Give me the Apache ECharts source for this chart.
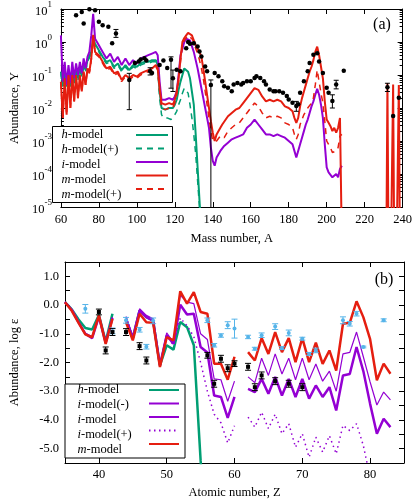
<!DOCTYPE html>
<html>
<head>
<meta charset="utf-8">
<script src="https://cdn.jsdelivr.net/npm/echarts@6/dist/echarts.min.js"></script>
<style>
html, body { margin: 0; padding: 0; background: #fff; }
#chart { width: 415px; height: 500px; }
</style>
</head>
<body>
<div id="chart"></div>
<script>
// ---- panel (a): log10 of abundance Y against mass number A ----
const massA = [60,61,62,63,64,65,66,67,68,69,70,71,72,73,74,75,76,77,78,79,80,
  82,84,86,88,90,92,94,96,98,100,102,104,106,108,110,
  111,112,113,114,115,116,117,118,119,120,121,122,123,124,125,126,127,128,129,130,
  131,132,133,134,135,136,137,138,139,140,141,142,143,144,145,
  146,148,150,152,154,156,158,160,162,164,166,168,170,172,174,176,178,180,182,
  183,184,185,186,187,188,189,190,191,192,193,194,195,196,197,198,199,200,201,202,203,204,205,206,207,208,
  209,231,232,233,234,235,236,237,238,239];

const hModelA = [-0.9,-1.3,-0.9,-1.35,-0.95,-1.3,-0.9,-1.2,-0.85,-1.1,-0.8,-1.0,-0.7,-0.85,-0.55,-0.6,-0.3,0.1,-0.05,-0.1,-0.25,
  -0.45,-0.6,-0.55,-0.75,-0.65,-0.85,-0.7,-0.85,-0.7,-0.75,-0.65,-0.6,-0.6,-0.55,-0.55,
  -0.7,-1.5,-2.0,-2.0,-2.05,-2.0,-2.0,-2.05,-2.0,-1.9,-1.75,-1.45,-1.2,-1.0,-0.8,-0.74,-0.9,-1.1,-1.5,-1.9,-2.8,-3.8,-4.8,-5.8];

const hModelPlusA = [-0.95,-1.35,-0.95,-1.4,-1.0,-1.35,-0.95,-1.25,-0.9,-1.15,-0.85,-1.05,-0.75,-0.9,-0.6,-0.65,-0.35,0.05,-0.1,-0.15,-0.3,
  -0.5,-0.65,-0.6,-0.8,-0.7,-0.9,-0.75,-0.9,-0.75,-0.8,-0.7,-0.65,-0.65,-0.6,-0.6,
  -0.8,-1.7,-2.2,-2.3,-2.35,-2.3,-2.3,-2.35,-2.35,-2.2,-2.1,-1.9,-1.75,-1.55,-1.4,-1.35,-1.55,-1.9,-2.3,-2.8,-3.4,-4.2,-5.0,-5.8];

const iModelA = [0.2,-1.2,-0.6,-1.3,-0.7,-1.25,-0.6,-1.1,-0.65,-1.0,-0.6,-0.95,-0.5,-0.8,-0.45,-0.3,0.2,0.85,0.1,0.15,-0.1,
  -0.3,-0.5,-0.35,-0.6,-0.45,-0.7,-0.5,-0.7,-0.55,-0.65,-0.5,-0.45,-0.4,-0.35,-0.3,
  -0.4,-1.2,-1.75,-1.7,-1.75,-1.7,-1.7,-1.75,-1.75,-1.65,-1.5,-1.0,-0.4,-0.2,0.0,0.1,0.16,0.05,0.0,-0.3,
  -0.55,-0.8,-1.1,-1.4,-1.7,-2.0,-2.3,-2.6,-3.2,-3.6,-3.75,-3.5,-3.4,-3.3,-3.35,
  -3.15,-3.05,-2.95,-2.9,-2.85,-2.8,-2.6,-2.5,-2.35,-2.5,-2.65,-2.8,-2.8,-2.85,-2.8,-2.85,-2.9,-3.0,-3.1,
  -3.3,-3.5,-3.45,-3.1,-2.9,-2.7,-2.5,-2.35,-2.15,-1.95,-1.8,-1.6,-1.42,-1.6,-1.9,-2.3,-3.1,-3.8,-3.95,-3.9,-4.1,-4.15,-4.0,-4.1,-3.85,-3.75];

const mModelA = [-1.2,-2.3,-1.1,-2.2,-1.0,-2.0,-1.0,-1.8,-1.0,-1.7,-1.0,-1.5,-0.9,-1.3,-0.8,-0.9,-0.5,0.22,-0.3,-0.25,-0.4,
  -0.6,-0.8,-0.75,-0.95,-0.9,-1.15,-1.0,-1.1,-1.0,-1.05,-0.95,-0.9,-0.85,-0.8,-0.7,
  -0.8,-1.4,-1.85,-1.85,-1.9,-1.85,-1.85,-1.9,-1.9,-1.75,-1.5,-1.1,-0.5,0.0,0.12,0.2,0.28,0.31,0.2,0.15,
  -0.1,-0.2,-0.3,-0.45,-0.8,-1.2,-1.6,-2.0,-2.4,-2.75,-3.0,-2.8,-2.75,-2.6,-2.5,
  -2.5,-2.25,-2.15,-2.05,-2.0,-1.85,-1.7,-1.55,-1.4,-1.45,-1.65,-1.8,-1.75,-1.8,-1.75,-1.8,-1.95,-2.0,-2.1,
  -2.3,-2.45,-2.3,-1.95,-1.7,-1.5,-1.3,-1.1,-0.9,-0.75,-0.55,-0.3,-0.14,-0.4,-0.75,-1.1,-1.8,-2.35,-2.45,-2.55,-2.7,-2.6,-2.75,-2.6,-2.3,-2.35,
  -10,-10,-1.24,-10,-10,-1.29,-10,-10,-1.3,-10];

const mModelPlusA = [-1.25,-2.3,-1.15,-2.2,-1.05,-2.0,-1.05,-1.8,-1.05,-1.7,-1.05,-1.5,-0.95,-1.3,-0.85,-0.95,-0.55,0.15,-0.35,-0.3,-0.45,
  -0.65,-0.85,-0.8,-1.0,-0.95,-1.2,-1.05,-1.15,-1.05,-1.1,-1.0,-0.95,-0.9,-0.85,-0.75,
  -0.85,-1.5,-2.0,-2.0,-2.05,-2.0,-2.0,-2.05,-2.0,-1.85,-1.6,-1.2,-0.6,-0.1,0.05,0.1,0.2,0.22,0.1,0.0,
  -0.2,-0.35,-0.55,-0.8,-1.1,-1.5,-1.9,-2.3,-2.7,-3.0,-3.05,-3.0,-2.95,-2.85,-2.85,
  -2.9,-2.7,-2.6,-2.5,-2.45,-2.3,-2.15,-2.0,-1.85,-1.95,-2.15,-2.3,-2.25,-2.3,-2.25,-2.3,-2.45,-2.5,-2.6,
  -2.8,-2.95,-2.8,-2.5,-2.35,-2.2,-2.1,-2.0,-1.95,-1.85,-1.7,-1.3,-0.85,-1.2,-1.55,-1.85,-2.4,-3.0,-3.1,-3.2,-3.35,-3.4,-3.3,-3.2,-2.85,-2.8];

const obsMass = [68,71,72,75,78,80,82,85,87,89,96,99,101,102,104,105,107,108,112,114,116,118,119,121,123,
  126,127,128,130,132,133,134,136,137,139,141,143,145,146,148,150,151,153,155,156,158,160,162,163,165,167,168,
  170,172,173,175,177,179,180,182,184,185,186,188,190,191,193,195,196,198,200,201,203,205,209,232,235,238];
const obsLogY = [0.81,0.91,0.56,0.99,0.96,0.61,0.51,0.46,-0.04,0.26,-1.15,-0.64,-0.59,-0.53,-0.49,-0.56,-0.89,-0.94,
  -0.7,-0.56,-0.79,-0.54,-1.1,-0.84,-0.89,-0.19,0.0,-0.05,-0.04,-0.14,-0.29,-0.44,-0.74,-0.89,
  -1.3,-0.94,-1.04,-1.19,-1.34,-1.39,-1.49,-1.29,-1.24,-1.29,-1.24,-1.19,-1.19,-1.09,-1.04,-1.09,-1.19,-1.29,
  -1.44,-1.49,-1.49,-1.49,-1.54,-1.64,-1.74,-1.84,-1.94,-1.89,-1.54,-1.19,-0.89,-0.64,-0.39,-0.34,-0.59,-0.94,
  -1.39,-1.54,-1.79,-1.29,-0.87,-1.37,-2.24,-1.69];
const errMass = [89,96,107,118,119,139,184,203,205,232];
const errLow = [0.14,-2.05,-1.0,-1.4,-1.5,-6,-2.1,-2.0,-1.42,-1.5];
const errHigh = [0.38,-0.95,-0.78,-0.45,-0.85,-1.15,-1.8,-1.6,-1.16,-1.25];

// ---- panel (b): log epsilon against atomic number Z ----
const atomicZ = [35,36,37,38,39,40,41,42,43,44,45,46,47,48,49,50,51,52,53,54,55,56,57,58,59,60,
  61,62,63,64,65,66,67,68,69,70,71,72,73,74,75,76,77,78,79,80,81,82,83];
const hModelB = [0.1,-0.15,-0.5,-0.8,-0.85,-0.35,-1.27,-0.3,null,-0.48,-1.15,-0.19,-0.42,-0.54,-2.1,-1.4,-1.55,-0.59,-0.77,-1.4,-5.4,-9];
const iModelMinusB = [0.12,-0.15,-0.58,-0.98,-1.1,-0.4,-1.3,-0.42,null,-0.4,-1.1,-0.13,-0.36,-0.48,-2.05,-0.97,-1.3,0.34,0.1,0.05,-1.0,-1.2,-2.57,-2.6,-3.35,-2.65,
  null,-2.5,-2.7,-1.85,-2.45,-1.7,-2.4,-1.85,-2.6,-1.85,-2.6,-2.05,-2.65,-2.3,-3.0,-1.7,-1.65,-0.94,-1.8,-2.68,-3.48,-3.03,-3.3];
const iModelB = [0.1,-0.17,-0.6,-1.0,-1.15,-0.4,-1.32,-0.45,null,-0.48,-1.15,-0.19,-0.42,-0.54,-2.1,-1.06,-1.35,0.01,-0.33,-0.3,-1.46,-1.65,-3.15,-3.2,-3.93,-3.2,
  null,-2.92,-3.03,-2.57,-3.09,-2.5,-3.15,-2.57,-3.2,-2.57,-3.26,-2.8,-3.2,-2.86,-3.67,-2.45,-2.4,-1.46,-2.3,-3.44,-4.48,-3.96,-4.25];
const iModelPlusB = [0.1,-0.17,-0.6,-1.0,-1.15,-0.4,-1.32,-0.45,null,-0.48,-1.15,-0.19,-0.42,-0.54,-2.1,-1.06,-1.4,-0.45,-0.72,-1.1,-2.0,-3.0,-3.8,-4.1,-4.8,-4.2,
  null,-3.9,-4.25,-3.73,-4.3,-3.8,-4.48,-4.13,-4.95,-4.48,-5.3,-4.6,-5.12,-4.55,-5.18,-4.19,-4.37,-4.13,-4.89,-6.0];
const mModelB = [0.1,-0.2,-0.62,-1.02,-1.12,-0.36,-1.35,-0.48,null,-0.6,-1.23,-0.3,-0.6,-0.62,-2.16,-1.12,-1.23,0.48,0.05,0.45,-0.24,-0.3,-2.04,-2.04,-2.6,-1.8,
  null,-1.64,-1.93,-1.15,-1.7,-0.94,-1.64,-1.15,-1.99,-1.15,-1.99,-1.31,-2.05,-1.58,-2.28,-0.65,-0.62,0.13,-0.42,-1.19,-2.62,-2.04,-2.39];

const blackZ = [40,41,42,44,46,47,56,57,58,59,60,62,63,64,66,68,70];
const blackEps = [-0.24,-1.58,-0.94,-0.94,-1.43,-1.93,-1.75,-2.74,-1.87,-2.2,-2.04,-2.15,-2.86,-2.45,-2.65,-2.74,-2.86];
const blackErr = [0.1,0.12,0.12,0.12,0.12,0.12,0.1,0.12,0.12,0.12,0.1,0.12,0.12,0.12,0.12,0.12,0.12];
const blueZ = [38,42,44,46,47,48,56,57,58,59,60,62,63,64,66,67,68,70,71,72,76,77,78,79,82];
const blueEps = [-0.13,-0.9,-0.53,-0.86,-1.45,-0.55,-0.53,-1.4,-1.06,-0.7,-0.82,-1.11,-1.52,-1.05,-0.75,-1.5,-0.97,-1.17,-1.7,-1.58,-0.53,-0.65,-0.3,-1.46,-0.53];
const blueErr = [0.15,0.1,0.1,0.08,0.08,0.1,0.08,0.06,0.06,0.12,0.33,0.06,0.05,0.08,0.1,0.05,0.1,0.05,0.05,0.08,0.12,0.08,0.08,0.03,0.05];

const zTicks = [40,50,60,70,80];
const epsLabels = [-5,-4,-3,-2,-1,0,1];
const epsTicks = [-5,-4.5,-4,-3.5,-3,-2.5,-2,-1.5,-1,-0.5,0,0.5,1];

// ---- styling ----
const FONT = '"Liberation Serif", "Times New Roman", serif';
const BLACK = '#000';
const GREEN = '#009e73', PURPLE = '#9400d3', RED = '#e51e10', BLUE = '#56b4e9';

const pairs = (xs, ys) => ys.map((v, i) => [xs[i], v]);

// minor ticks of the log axis (2..9 inside each decade)
const minorLogTicks = [];
for (let n = -5; n < 1; n++) {
  for (let k = 2; k < 10; k++) minorLogTicks.push(n + Math.log10(k));
}

function errorBars(color, cap) {
  return function (params, api) {
    const x = api.value(0);
    const lo = api.coord([x, api.value(1)]);
    const hi = api.coord([x, api.value(2)]);
    const style = { stroke: color, lineWidth: 1 };
    return {
      type: 'group',
      children: [
        { type: 'line', shape: { x1: lo[0], y1: lo[1], x2: hi[0], y2: hi[1] }, style: style },
        { type: 'line', shape: { x1: lo[0] - cap, y1: lo[1], x2: lo[0] + cap, y2: lo[1] }, style: style },
        { type: 'line', shape: { x1: hi[0] - cap, y1: hi[1], x2: hi[0] + cap, y2: hi[1] }, style: style }
      ]
    };
  };
}

const axisLine = { show: true, onZero: false, lineStyle: { color: BLACK, width: 1 } };
const tick = { show: true, inside: true, length: 5, lineStyle: { color: BLACK, width: 1 } };
const minorTick = { show: true, inside: true, length: 3, lineStyle: { color: BLACK, width: 1 }, customValues: minorLogTicks };
const label = { color: BLACK, fontFamily: FONT, fontSize: 12.5 };
const nameStyle = { color: BLACK, fontFamily: FONT, fontSize: 12.5 };
const noSplit = { show: false };
const hiddenLine = { show: false, onZero: false };

const legendText = {
  fontFamily: FONT, fontSize: 12.5, color: BLACK, lineHeight: 15,
  rich: { it: { fontFamily: FONT, fontSize: 12.5, color: BLACK, fontStyle: 'italic', lineHeight: 15 } }
};
const legendNamesA = ['h-model', 'h-model(+)', 'i-model', 'm-model', 'm-model(+)'];
const legendNamesB = ['h-model', 'i-model(-)', 'i-model', 'i-model(+)', 'm-model'];

function textLegend(names, left, top) {
  return {
    data: names, orient: 'vertical', left: left, top: top, padding: 0, itemGap: 0,
    itemWidth: 1, itemHeight: 15, itemStyle: { opacity: 0 }, lineStyle: { opacity: 0 },
    textStyle: legendText, selectedMode: false, z: 10,
    formatter: n => '{it|' + n.charAt(0) + '}' + n.slice(1)
  };
}
function iconLegend(names, left, top, width) {
  return {
    data: names, orient: 'vertical', left: left, top: top, padding: 0, itemGap: 0,
    itemWidth: width, itemHeight: 15, itemStyle: { opacity: 0 },
    textStyle: { fontSize: 1 }, selectedMode: false, z: 10,
    formatter: () => ''
  };
}

function modelLine(name, xi, yi, data, color, width, type) {
  return {
    name: name, type: 'line', xAxisIndex: xi, yAxisIndex: yi, data: data,
    symbol: 'none', clip: true, connectNulls: false,
    lineStyle: { color: color, width: width, type: type || 'solid' },
    itemStyle: { color: color }
  };
}

const chart = echarts.init(document.getElementById('chart'));
chart.setOption({
  animation: false,
  backgroundColor: '#fff',
  grid: [
    { left: 48, top: 7, width: 355, height: 200 },
    { left: 59, top: 262, width: 345, height: 201 }
  ],
  xAxis: [
    { gridIndex: 0, type: 'value', position: 'bottom', min: 60, max: 240, interval: 20,
      axisLine: axisLine, axisTick: tick, splitLine: noSplit,
      axisLabel: Object.assign({ margin: 6 }, label),
      name: 'Mass number, A', nameLocation: 'middle', nameGap: 25, nameTextStyle: nameStyle },
    { gridIndex: 0, type: 'value', position: 'top', min: 60, max: 240, interval: 20,
      axisLine: axisLine, axisTick: tick, splitLine: noSplit, axisLabel: { show: false } },
    { gridIndex: 1, type: 'value', position: 'bottom', min: 35, max: 85,
      axisLine: axisLine, axisTick: Object.assign({ customValues: zTicks }, tick), splitLine: noSplit,
      axisLabel: Object.assign({ margin: 5, customValues: zTicks }, label),
      name: 'Atomic number, Z', nameLocation: 'middle', nameGap: 23, nameTextStyle: nameStyle },
    { gridIndex: 1, type: 'value', position: 'top', min: 35, max: 85,
      axisLine: axisLine, axisTick: Object.assign({ customValues: zTicks }, tick), splitLine: noSplit,
      axisLabel: { show: false } }
  ],
  yAxis: [
    { gridIndex: 0, type: 'value', position: 'left', min: -5, max: 1, interval: 1,
      axisLine: axisLine, axisTick: tick, splitLine: noSplit,
      axisLabel: {
        margin: 9,
        formatter: v => '{b|10}{s|' + v + '}',
        rich: {
          b: { color: BLACK, fontFamily: FONT, fontSize: 12.5, lineHeight: 18, verticalAlign: 'bottom' },
          s: { color: BLACK, fontFamily: FONT, fontSize: 9, lineHeight: 8, verticalAlign: 'top' }
        }
      },
      name: 'Abundance, Y', nameLocation: 'middle', nameGap: 33, nameTextStyle: nameStyle },
    { gridIndex: 0, type: 'value', position: 'right', min: -5, max: 1, interval: 1,
      axisLine: axisLine, axisTick: tick, splitLine: noSplit, axisLabel: { show: false } },
    { gridIndex: 0, type: 'value', position: 'left', min: -5, max: 1,
      axisLine: hiddenLine, axisTick: minorTick, splitLine: noSplit, axisLabel: { show: false } },
    { gridIndex: 0, type: 'value', position: 'right', min: -5, max: 1,
      axisLine: hiddenLine, axisTick: minorTick, splitLine: noSplit, axisLabel: { show: false } },
    { gridIndex: 1, type: 'value', position: 'left', min: -5.5, max: 1.5,
      axisLine: axisLine, axisTick: Object.assign({ customValues: epsTicks }, tick), splitLine: noSplit,
      axisLabel: Object.assign({ margin: 6, customValues: epsLabels, formatter: v => v.toFixed(1) }, label),
      name: 'Abundance, log ε', nameLocation: 'middle', nameGap: 44, nameTextStyle: nameStyle },
    { gridIndex: 1, type: 'value', position: 'right', min: -5.5, max: 1.5,
      axisLine: axisLine, axisTick: Object.assign({ customValues: epsTicks }, tick), splitLine: noSplit,
      axisLabel: { show: false } }
  ],
  legend: [
    textLegend(legendNamesA, 50, 127.5),
    iconLegend(legendNamesA, 135, 127.5, 32),
    textLegend(legendNamesB, 66, 382.5),
    iconLegend(legendNamesB, 148, 382.5, 30)
  ],
  graphic: [
    { type: 'rect', z: 5, shape: { x: 52.5, y: 126.5, width: 120, height: 76 },
      style: { fill: '#fff', stroke: BLACK, lineWidth: 1 } },
    { type: 'rect', z: 5, shape: { x: 65, y: 384, width: 120, height: 74 },
      style: { fill: '#fff', stroke: BLACK, lineWidth: 1 } },
    { type: 'text', z: 5, x: 382, y: 25,
      style: { text: '(a)', font: '16px "Liberation Serif"', fill: BLACK, align: 'center', verticalAlign: 'middle', textAlign: 'center', textVerticalAlign: 'middle' } },
    { type: 'text', z: 5, x: 384, y: 280,
      style: { text: '(b)', font: '16px "Liberation Serif"', fill: BLACK, align: 'center', verticalAlign: 'middle', textAlign: 'center', textVerticalAlign: 'middle' } }
  ],
  series: [
    // panel (a)
    modelLine('h-model(+)', 0, 0, pairs(massA, hModelPlusA), GREEN, 1.5, [6, 5]),
    modelLine('h-model', 0, 0, pairs(massA, hModelA), GREEN, 2),
    modelLine('i-model', 0, 0, pairs(massA, iModelA), PURPLE, 2),
    modelLine('m-model(+)', 0, 0, pairs(massA, mModelPlusA), RED, 1.5, [6, 5]),
    modelLine('m-model', 0, 0, pairs(massA, mModelA), RED, 2),
    { name: 'solar r', type: 'scatter', xAxisIndex: 0, yAxisIndex: 0, data: pairs(obsMass, obsLogY),
      symbol: 'circle', symbolSize: 4.5, itemStyle: { color: BLACK, opacity: 1 }, z: 6 },
    { name: 'solar r err', type: 'custom', xAxisIndex: 0, yAxisIndex: 0, clip: true, z: 6,
      renderItem: errorBars(BLACK, 2.5), encode: { x: 0, y: [1, 2] },
      data: errMass.map((a, i) => [a, errLow[i], errHigh[i]]) },
    // panel (b)
    modelLine('h-model', 2, 4, pairs(atomicZ, hModelB), GREEN, 2.5),
    modelLine('i-model(-)', 2, 4, pairs(atomicZ, iModelMinusB), PURPLE, 1.2),
    modelLine('i-model', 2, 4, pairs(atomicZ, iModelB), PURPLE, 2.5),
    modelLine('i-model(+)', 2, 4, pairs(atomicZ, iModelPlusB), PURPLE, 1.5, [1.5, 3.5]),
    modelLine('m-model', 2, 4, pairs(atomicZ, mModelB), RED, 2.5),
    { name: 'star b err', type: 'custom', xAxisIndex: 2, yAxisIndex: 4, clip: true, z: 6,
      renderItem: errorBars(BLUE, 3), encode: { x: 0, y: [1, 2] },
      data: blueZ.map((z, i) => [z, blueEps[i] - blueErr[i], blueEps[i] + blueErr[i]]) },
    { name: 'star b', type: 'scatter', xAxisIndex: 2, yAxisIndex: 4, data: pairs(blueZ, blueEps),
      symbol: 'circle', symbolSize: 4, itemStyle: { color: BLUE, opacity: 1 }, z: 6 },
    { name: 'star a err', type: 'custom', xAxisIndex: 2, yAxisIndex: 4, clip: true, z: 6,
      renderItem: errorBars(BLACK, 3), encode: { x: 0, y: [1, 2] },
      data: blackZ.map((z, i) => [z, blackEps[i] - blackErr[i], blackEps[i] + blackErr[i]]) },
    { name: 'star a', type: 'scatter', xAxisIndex: 2, yAxisIndex: 4, data: pairs(blackZ, blackEps),
      symbol: 'rect', symbolSize: 4, itemStyle: { color: BLACK, opacity: 1 }, z: 6 }
  ]
});
</script>
</body>
</html>
